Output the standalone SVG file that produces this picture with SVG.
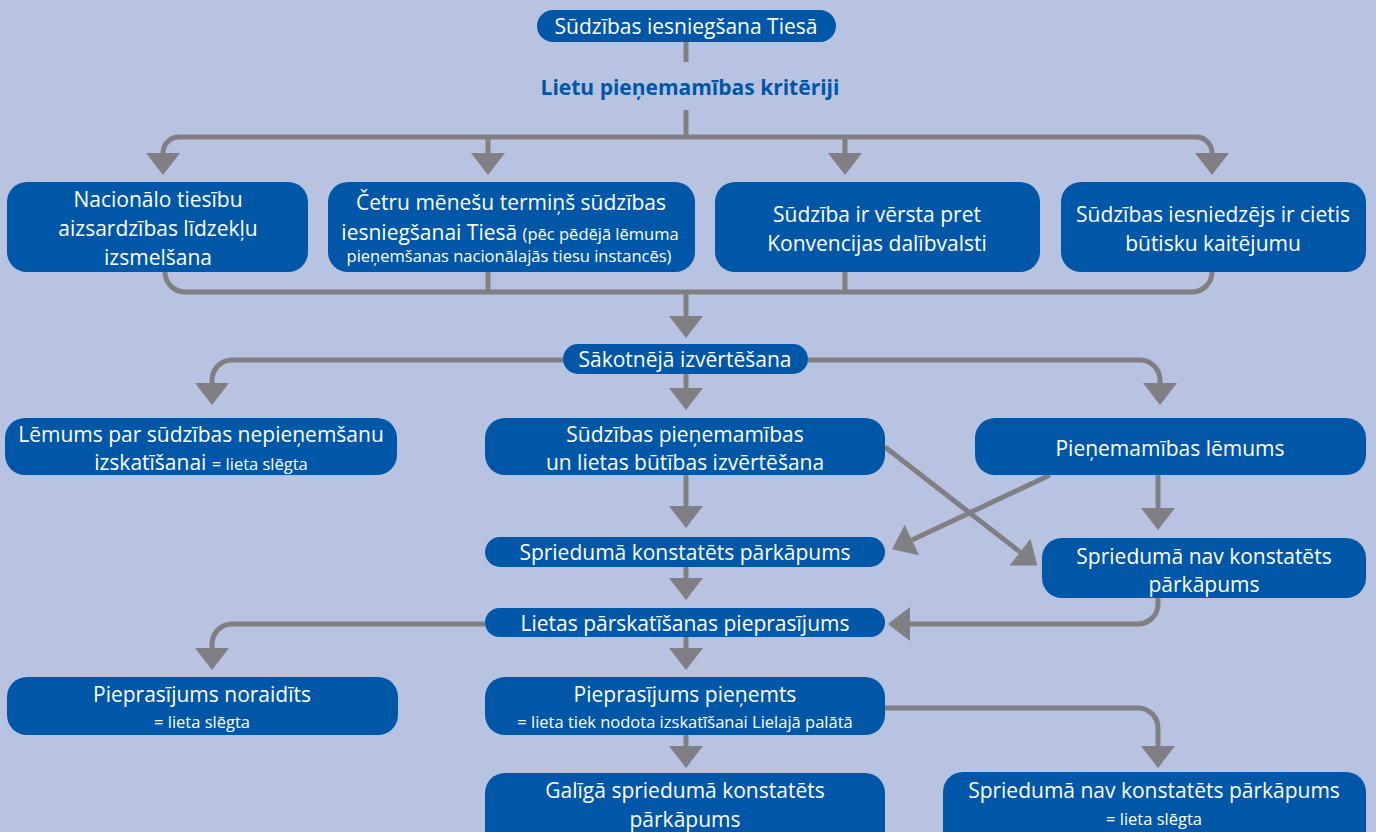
<svg xmlns="http://www.w3.org/2000/svg" width="1376" height="832" viewBox="0 0 1376 832">
<style>
.bg{fill:#B8C2E1}
.box{fill:#0057A8}
.t{font-family:"Open Sans","Noto Sans","Liberation Sans",sans-serif;font-size:21px;fill:#fff;text-anchor:middle}
.s{font-size:16.5px}
.h{font-family:"Open Sans","Noto Sans","Liberation Sans",sans-serif;font-size:21px;font-weight:bold;fill:#0057A8;text-anchor:middle}
.c path{fill:none;stroke:#808084;stroke-width:5}
.a{marker-end:url(#ah)}
</style>
<defs>
<marker id="ah" viewBox="0 0 22 34" refX="0" refY="17" markerWidth="22" markerHeight="34" markerUnits="userSpaceOnUse" orient="auto">
<path d="M0,0 L22,17 L0,34 z" fill="#808084"/>
</marker>
</defs>
<rect class="bg" x="0" y="0" width="1376" height="832"/>
<g class="c" id="connectors">
<path d="M686,42 V62"/>
<path d="M686,110 V137"/>
<path class="a" d="M686,137 H179 A16,16 0 0 0 163,153"/>
<path class="a" d="M686,137 H1196 A16,16 0 0 1 1212,153"/>
<path class="a" d="M488,137 V153"/>
<path class="a" d="M845,137 V153"/>
<path d="M165,272 A20,20 0 0 0 185,292 H1192 A20,20 0 0 0 1212,272"/>
<path d="M488,272 V292"/>
<path d="M845,272 V292"/>
<path class="a" d="M686,292 V316"/>
<path class="a" d="M563,360 H232 A20,20 0 0 0 212,380 V383"/>
<path class="a" d="M808,360 H1140 A20,20 0 0 1 1160,380 V383"/>
<path class="a" d="M686,374 V388"/>
<path class="a" d="M686,475 V506"/>
<path class="a" d="M885,447 L1020,552"/>
<path class="a" d="M1050,475 L912,540"/>
<path class="a" d="M1158,475 V508"/>
<path class="a" d="M1158,598 V604 A20,20 0 0 1 1138,624 H910"/>
<path class="a" d="M686,567 V578"/>
<path class="a" d="M485,624 H232 A20,20 0 0 0 212,644 V648"/>
<path class="a" d="M686,637 V648"/>
<path class="a" d="M885,708 H1138 A20,20 0 0 1 1158,728 V746"/>
<path class="a" d="M686,735 V746"/>
</g>
<g id="n-start"><rect class="box" x="537" y="10" width="299" height="32" rx="16"/><text class="t" x="686" y="34">Sūdzības iesniegšana Tiesā</text></g>
<g id="n-criteria"><text class="h" x="690" y="95">Lietu pieņemamības kritēriji</text></g>
<g id="n-c1"><rect class="box" x="7" y="182" width="301" height="90" rx="20"/>
<text class="t" x="158" y="207">Nacionālo tiesību</text>
<text class="t" x="158" y="236">aizsardzības līdzekļu</text>
<text class="t" x="158" y="265">izsmelšana</text></g>
<g id="n-c2"><rect class="box" x="328" y="182" width="367" height="90" rx="20"/>
<text class="t" x="511" y="210">Četru mēnešu termiņš sūdzības</text>
<text class="t" x="510" y="240">iesniegšanai Tiesā <tspan class="s">(pēc pēdējā lēmuma</tspan></text>
<text class="t s" x="509" y="262">pieņemšanas nacionālajās tiesu instancēs)</text></g>
<g id="n-c3"><rect class="box" x="715" y="182" width="325" height="90" rx="20"/>
<text class="t" x="877" y="222">Sūdzība ir vērsta pret</text>
<text class="t" x="877" y="251">Konvencijas dalībvalsti</text></g>
<g id="n-c4"><rect class="box" x="1061" y="182" width="305" height="90" rx="20"/>
<text class="t" x="1213" y="222">Sūdzības iesniedzējs ir cietis</text>
<text class="t" x="1213" y="251">būtisku kaitējumu</text></g>
<g id="n-initial"><rect class="box" x="563" y="344" width="245" height="30" rx="15"/><text class="t" x="685" y="367">Sākotnējā izvērtēšana</text></g>
<g id="n-reject"><rect class="box" x="5" y="418" width="392" height="57" rx="20"/>
<text class="t" x="201" y="442">Lēmums par sūdzības nepieņemšanu</text>
<text class="t" x="201" y="470">izskatīšanai <tspan class="s">= lieta slēgta</tspan></text></g>
<g id="n-merits"><rect class="box" x="485" y="418" width="400" height="57" rx="20"/>
<text class="t" x="685" y="442">Sūdzības pieņemamības</text>
<text class="t" x="685" y="470">un lietas būtības izvērtēšana</text></g>
<g id="n-admdec"><rect class="box" x="975" y="418" width="391" height="57" rx="20"/>
<text class="t" x="1170" y="456">Pieņemamības lēmums</text></g>
<g id="n-viol"><rect class="box" x="485" y="537" width="400" height="30" rx="15"/>
<text class="t" x="685" y="560">Spriedumā konstatēts pārkāpums</text></g>
<g id="n-noviol"><rect class="box" x="1042" y="538" width="324" height="60" rx="20"/>
<text class="t" x="1204" y="564">Spriedumā nav konstatēts</text>
<text class="t" x="1204" y="592">pārkāpums</text></g>
<g id="n-review"><rect class="box" x="485" y="608" width="400" height="29" rx="14.5"/>
<text class="t" x="685" y="631">Lietas pārskatīšanas pieprasījums</text></g>
<g id="n-denied"><rect class="box" x="7" y="677" width="391" height="58" rx="20"/>
<text class="t" x="202" y="702">Pieprasījums noraidīts</text>
<text class="t s" x="202" y="728">= lieta slēgta</text></g>
<g id="n-accepted"><rect class="box" x="485" y="677" width="400" height="58" rx="20"/>
<text class="t" x="685" y="702">Pieprasījums pieņemts</text>
<text class="t s" x="685" y="728">= lieta tiek nodota izskatīšanai Lielajā palātā</text></g>
<g id="n-final"><rect class="box" x="485" y="773" width="400" height="80" rx="20"/>
<text class="t" x="685" y="798">Galīgā spriedumā konstatēts</text>
<text class="t" x="685" y="827">pārkāpums</text></g>
<g id="n-finalno"><rect class="box" x="943" y="772" width="423" height="80" rx="20"/>
<text class="t" x="1154" y="798">Spriedumā nav konstatēts pārkāpums</text>
<text class="t s" x="1154" y="825">= lieta slēgta</text></g>
</svg>
